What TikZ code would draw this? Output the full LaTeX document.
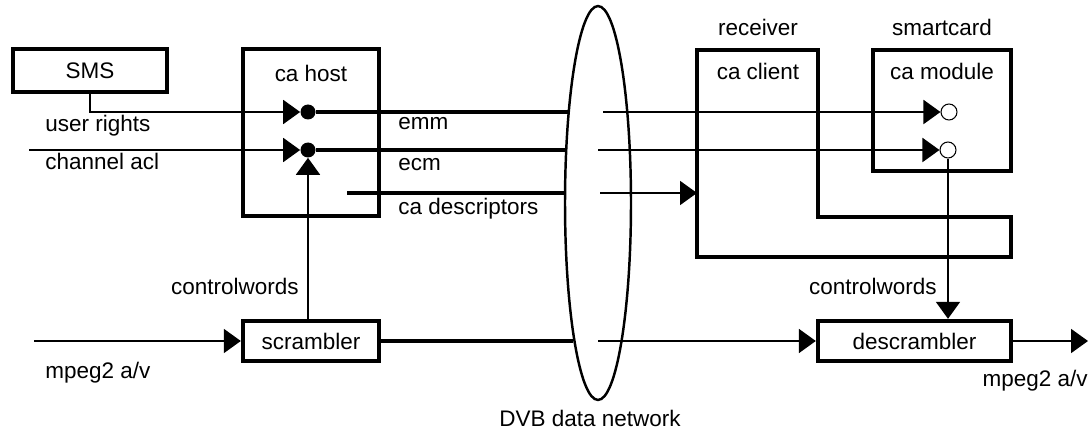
\documentclass[tikz,border=0pt]{standalone}
\usepackage{fontspec}
\setmainfont{Liberation Sans}
\usetikzlibrary{arrows.meta, shapes.geometric}

\tikzset{
  box/.style = {draw, line width=2.5pt},
  wire/.style = {line width=1.1pt},
  bus/.style = {line width=2pt},
  tip/.style = {-{Triangle[length=0.34cm, width=0.48cm]}},
  dot/.style = {circle, fill, minimum size=0.3cm},
  hole/.style = {circle, draw, fill=white, line width=0.6pt, minimum size=0.32cm}
}

\begin{document}
\begin{tikzpicture}[x=0.02cm, y=-0.02cm, inner sep=0pt, font=\fontsize{12.8}{15}\selectfont]
\useasboundingbox (0,0) rectangle (1092,432);

% head end
\node[box, minimum width=3.08cm, minimum height=0.86cm] (sms) at (90,70.5) {SMS};
\node[box, minimum width=2.72cm, minimum height=3.34cm] (host) at (311,132.5) {};
\path (311,82) node[anchor=base] (hostlbl) {ca host};
\node[box, minimum width=2.72cm, minimum height=0.8cm] (scr) at (311,341) {scrambler};
\path (45,132) node[anchor=base west] (rights) {user rights};
\path (45,170) node[anchor=base west] (acl) {channel acl};
\path (299,295) node[anchor=base east] (cwl) {controlwords};
\path (45,378) node[anchor=base west] (avl) {mpeg2 a/v};
\path (398,130) node[anchor=base west] (emm) {emm};
\path (398,171) node[anchor=base west] (ecm) {ecm};
\path (398,215) node[anchor=base west] (desc) {ca descriptors};

% network
\node[ellipse, draw, line width=1.4pt, minimum width=1.32cm, minimum height=7.88cm] (dvb) at (598,203) {};
\path (590,426) node[anchor=base] (dvblbl) {DVB data network};

% receiver
\coordinate (rcv) at (697,50);
\draw[box] (rcv) -- (818,50) -- (818,217) -- (1011,217) -- (1011,257) -- (697,257) -- cycle;
\path (758,36) node[anchor=base] (rcvlbl) {receiver};
\path (758,80) node[anchor=base] (client) {ca client};
\node[box, minimum width=2.76cm, minimum height=2.42cm] (mod) at (942,110.5) {};
\path (942,36) node[anchor=base] (cardlbl) {smartcard};
\path (942,80) node[anchor=base] (modlbl) {ca module};
\node[box, minimum width=3.86cm, minimum height=0.8cm] (dscr) at (914.5,341) {descrambler};
\path (937,295) node[anchor=base east] (cwr) {controlwords};
\path (1088,386) node[anchor=base east] (avr) {mpeg2 a/v};

% junctions
\node[dot] (j1) at (308,112) {};
\node[dot] (j2) at (308,150) {};
\node[hole] (k1) at (949,112) {};
\node[hole] (k2) at (948,150) {};

% free ends
\coordinate (aclin) at (29,150);
\coordinate (avin) at (34,341);
\coordinate (descA) at (347,193);
\coordinate (emmA) at (568,112);
\coordinate (ecmA) at (567,150);
\coordinate (descB) at (565,193);
\coordinate (avA) at (573,341);
\coordinate (emmC) at (603,112);
\coordinate (ecmC) at (598,150);
\coordinate (descC) at (600,193);
\coordinate (avC) at (598,341);
\coordinate (avout) at (1088,341);

% sender links
\draw[wire, tip] (sms.south) |- (j1.west);
\draw[wire, tip] (aclin) -- (j2.west);
\draw[wire, tip] (scr.north -| j2) -- (j2.south);
\draw[wire, tip] (avin) -- (scr.west);
\draw[bus] (j1.east) -- (emmA);
\draw[bus] (j2.east) -- (ecmA);
\draw[bus] (descA) -- (descB);
\draw[bus] (scr.east) -- (avA);

% receiver links
\draw[wire, tip] (emmC) -- (k1.west);
\draw[wire, tip] (ecmC) -- (k2.west);
\draw[wire, tip] (descC) -- (descC -| rcv);
\draw[wire, tip] (k2.south) -- (dscr.north -| k2);
\draw[wire, tip] (avC) -- (dscr.west);
\draw[wire, tip] (dscr.east) -- (avout);
\end{tikzpicture}
\end{document}
